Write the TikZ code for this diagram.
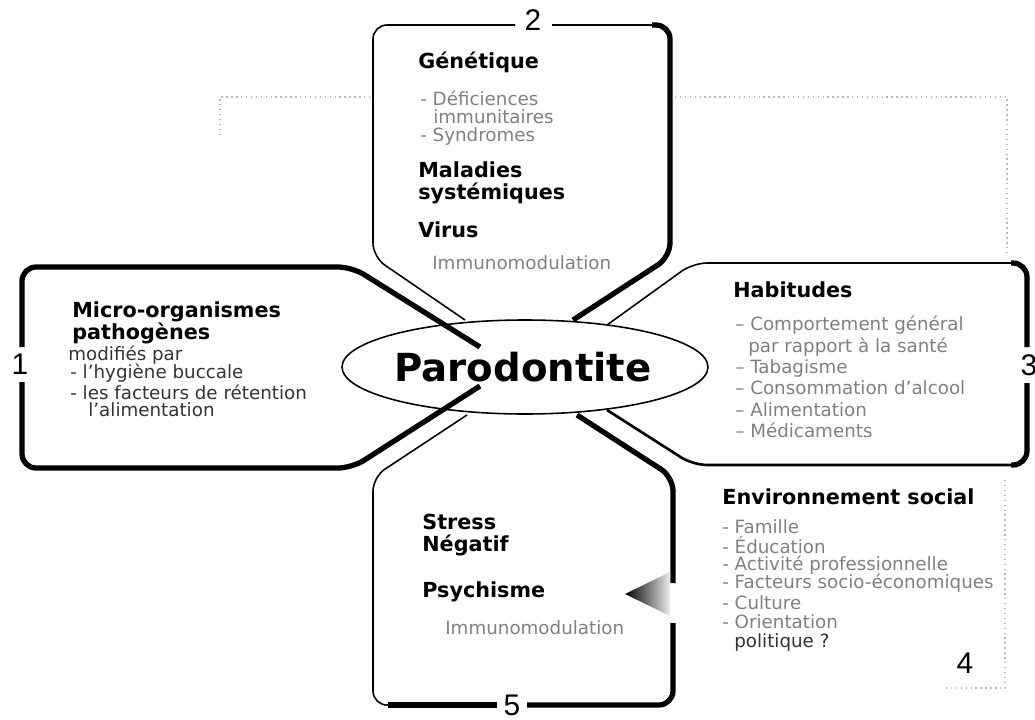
\documentclass[tikz,border=0pt]{standalone}
\usepackage{fontspec, tkz-euclide}
\setmainfont{DejaVu Sans}
\newfontfamily\chiffres{Liberation Sans}
\tikzset{>=stealth,
  fin/.style={line width=0.9pt},
  moyen/.style={line width=1.5pt},
  epais/.style={line width=3pt},
  pointille/.style={gray!55, dotted, line width=0.8pt},
  titre/.style={anchor=west, inner sep=0pt, font=\fontsize{11.8}{13}\selectfont\bfseries},
  liste/.style={anchor=west, inner sep=0pt, text=black!50, font=\fontsize{10.4}{12}\selectfont},
  listefonce/.style={liste, text=black!80},
  numero/.style={inner sep=1pt, fill=white, font=\chiffres\fontsize{17}{17}\selectfont}}

\begin{document}
\begin{tikzpicture}[x=0.02cm, y=-0.02cm]
    \useasboundingbox (0,0) rectangle (1035,720);
    \tkzDefPoints{480/347/M1, 352/267/M2, 22/267/M3, 22/347/M4, 22/382/M5, 22/468/M6, 352/468/M7, 480/386/M8}
    \tkzDefPoints{465/320/G1, 373/257/G2, 373/25/G3, 515/25/G4, 552/25/G5, 670/25/G6, 670/257/G7, 573/320/G8}
    \tkzDefPoints{607/325/H1, 693/263/H2, 1027/263/H3, 1027/347/H4, 1027/383/H5, 1027/465/H6, 693/465/H7, 607/410/H8}
    \tkzDefPoints{467/415/S1, 373/477/S2, 373/705/S3, 497/705/S4, 527/705/S5, 673/705/S6, 673/623/S7, 673/583/S8, 673/477/S9, 577/415/S10}
    \draw[pointille] (220,135) -- (220,97) -- (373,97);
    \draw[pointille] (670,97) -- (1007,97) -- (1007,255);
    \draw[pointille] (1005,480) -- (1005,688) -- (945,688);
    \draw[fin, rounded corners=8pt] (G1) -- (G2) -- (G3) -- (G4);
    \draw[fin] (G5) -- (655,25);
    \draw[epais, rounded corners=8pt] (652,25) -- (G6) -- (G7) -- (G8);
    \draw[fin, rounded corners=8pt] (H1) -- (H2) -- (H3) -- (H4);
    \draw[moyen, rounded corners=8pt] (H5) -- (H6) -- (H7) -- (H8);
    \draw[epais, rounded corners=8pt] (1011,263) -- (H3) -- (H4);
    \draw[epais, rounded corners=8pt] (H5) -- (H6) -- (1011,465);
    \draw[fin, rounded corners=8pt] (S1) -- (S2) -- (S3) -- (S4);
    \draw[epais] (388,705) -- (S4);
    \draw[epais, rounded corners=8pt] (S5) -- (S6) -- (S7);
    \draw[epais, rounded corners=8pt] (S8) -- (S9) -- (S10);
    \draw[fin, fill=white] (525,367) ellipse [x radius=183, y radius=47];
    \draw[epais, rounded corners=8pt] (M1) -- (M2) -- (M3) -- (M4);
    \draw[epais, rounded corners=8pt] (M5) -- (M6) -- (M7) -- (M8);
    \shade[left color=black, right color=gray!15] (625,594) -- (670,572) -- (670,616) -- cycle;
    \node[font=\fontsize{22}{24}\selectfont\bfseries] (paro) at (523,367) {Parodontite};
    \node[titre] (micro) at (72,312) {Micro-organismes};
    \node[titre] (patho) at (72,333) {pathogènes};
    \node[listefonce] (modif) at (68,355) {modifiés par};
    \node[listefonce] (hyg) at (70,373) {- l'hygiène buccale};
    \node[listefonce] (retent) at (70,392) {- les facteurs de rétention};
    \node[listefonce] (alim) at (88,410) {l'alimentation};
    \node[titre] (genet) at (418,62) {Génétique};
    \node[liste] (defic) at (420,98) {- Déficiences};
    \node[liste] (immun) at (433,117) {immunitaires};
    \node[liste] (syndr) at (420,136) {- Syndromes};
    \node[titre] (malad) at (418,170) {Maladies};
    \node[titre] (syst) at (418,193) {systémiques};
    \node[titre] (virus) at (418,230) {Virus};
    \node[liste] (immod) at (432,263) {Immunomodulation};
    \node[titre] (habit) at (733,290) {Habitudes};
    \node[liste] (compo) at (735,325) {-- Comportement général};
    \node[liste] (sante) at (748,347) {par rapport à la santé};
    \node[liste] (tabac) at (735,368) {-- Tabagisme};
    \node[liste] (alcool) at (735,388) {-- Consommation d'alcool};
    \node[liste] (alimh) at (735,410) {-- Alimentation};
    \node[liste] (medic) at (735,430) {-- Médicaments};
    \node[titre] (envir) at (722,497) {Environnement social};
    \node[liste] (famil) at (722,527) {- Famille};
    \node[liste] (educ) at (722,545) {- Éducation};
    \node[liste] (activ) at (722,565) {- Activité professionnelle};
    \node[liste] (socio) at (722,583) {- Facteurs socio-économiques};
    \node[liste] (cultu) at (722,603) {- Culture};
    \node[liste] (orient) at (722,622) {- Orientation};
    \node[listefonce] (polit) at (734,642) {politique ?};
    \node[titre] (stress) at (422,522) {Stress};
    \node[titre] (negat) at (422,545) {Négatif};
    \node[titre] (psych) at (422,592) {Psychisme};
    \node[liste] (immps) at (445,628) {Immunomodulation};
    \node[numero] (n1) at (20,364) {1};
    \node[numero] (n2) at (533,20) {2};
    \node[numero] (n3) at (1029,365) {3};
    \node[numero] (n4) at (965,663) {4};
    \node[numero] (n5) at (512,705) {5};
    \end{tikzpicture}
\end{document}
